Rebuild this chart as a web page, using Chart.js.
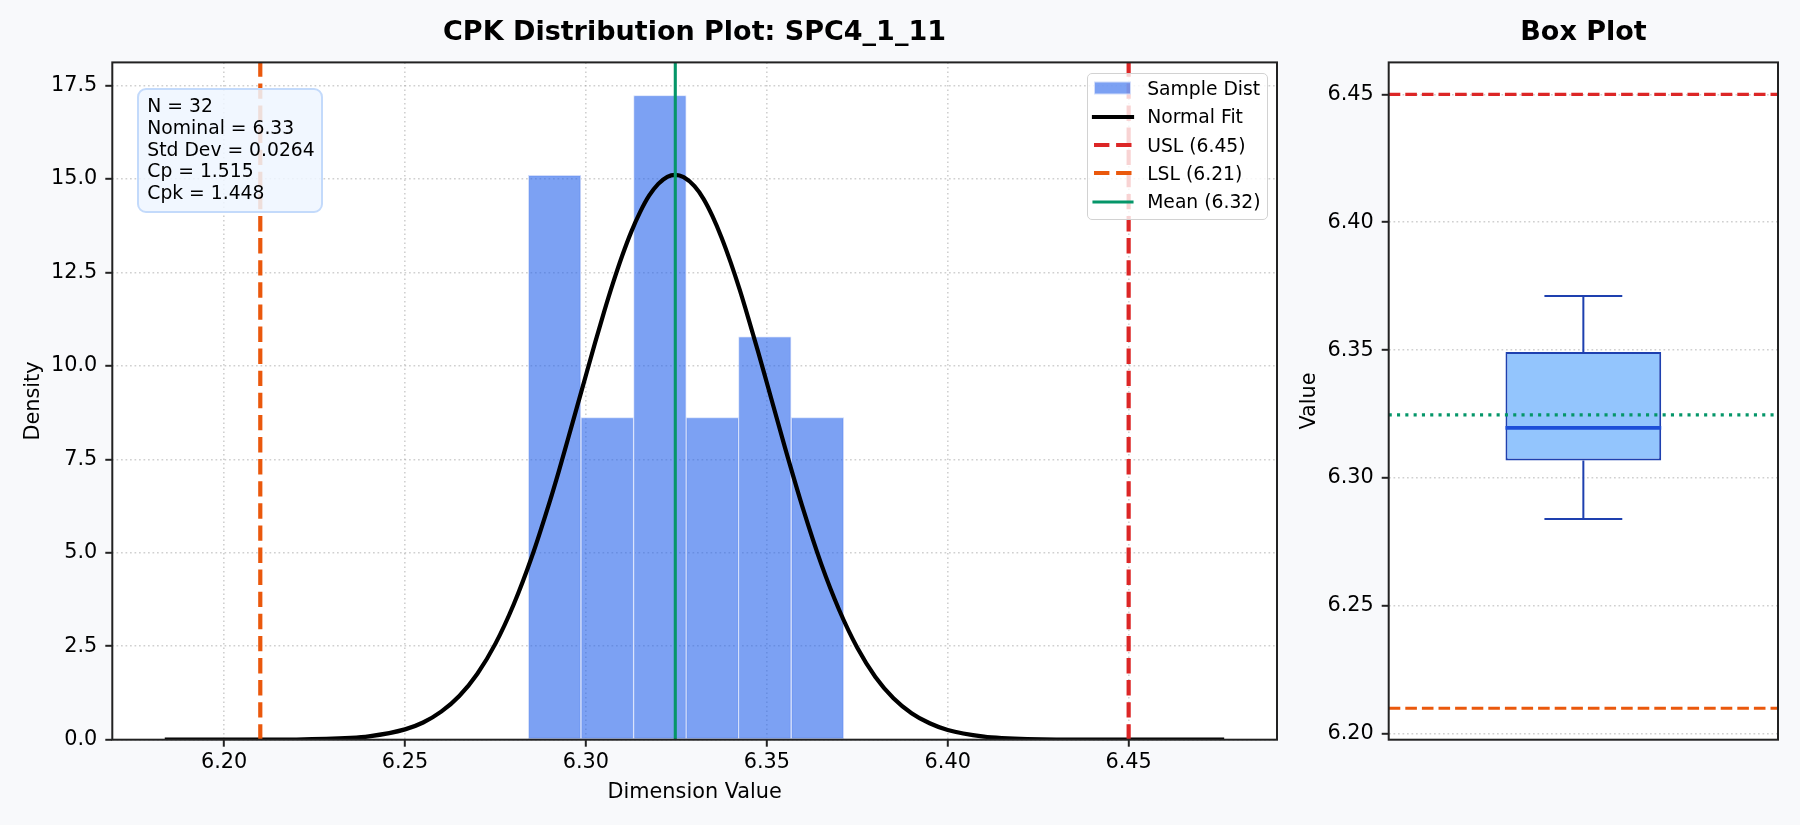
<!DOCTYPE html>
<html>
<head>
<meta charset="utf-8">
<script src="https://cdn.jsdelivr.net/npm/chart.js@4.4.1/dist/chart.umd.min.js"></script>
<style>
  html, body { margin: 0; padding: 0; width: 1800px; height: 825px; overflow: hidden; background: #f8f9fb; font-family: 'DejaVu Sans', sans-serif; }
  #wrap { position: relative; width: 1800px; height: 825px; overflow: hidden; }
  #mainCanvas { position: absolute; left: 0; top: 0; z-index: 1; }
  #boxCanvas { position: absolute; left: 1280px; top: 0; z-index: 2; }
  #stats { position: absolute; z-index: 3; left: 137px; top: 87.7px; width: 186.4px; height: 125.6px; box-sizing: border-box;
           border: 2px solid #c3dafb; border-radius: 9px; background: rgba(239,246,255,0.85);
           padding: 5.4px 0 0 8.3px; font-size: 18.75px; line-height: 21.8px; color: #000; white-space: nowrap; }
  #legend { position: absolute; z-index: 3; left: 1086.7px; top: 72.7px; width: 181.6px; height: 147.3px; box-sizing: border-box;
            border: 1.5px solid #d2d2d2; border-radius: 5px; background: rgba(255,255,255,0.8); padding-top: 0.65px; }
  .lrow { display: flex; align-items: center; height: 28.3px; font-size: 18.75px; color: #000; white-space: nowrap; }
  .lrow svg { margin-left: 3.8px; flex: none; }
  .lrow span { margin-left: 11.7px; }
</style>
</head>
<body>
<div id="wrap">
  <canvas id="mainCanvas" width="1389" height="825"></canvas>
  <canvas id="boxCanvas" width="607" height="825"></canvas>
  <div id="stats"></div>
  <div id="legend"></div>
</div>
<script>
// ---------------- data ----------------
const BIN_EDGES = [6.2841, 6.2986, 6.3132, 6.3277, 6.3422, 6.3567, 6.3713];
const DENSITY   = [15.1, 8.62, 17.23, 8.62, 10.78, 8.62];

const FIT_X = [6.1836, 6.2000, 6.2200, 6.2350, 6.2400, 6.2500, 6.2550, 6.2600, 6.2650, 6.2700,
               6.2750, 6.2800, 6.2850, 6.2900, 6.2925, 6.2950, 6.2975, 6.3000, 6.3025, 6.3050,
               6.3075, 6.3100, 6.3125, 6.3150, 6.3175, 6.3200, 6.3225, 6.3247, 6.3270, 6.3300,
               6.3325, 6.3350, 6.3375, 6.3400, 6.3425, 6.3450, 6.3475, 6.3500, 6.3550, 6.3600,
               6.3650, 6.3700, 6.3750, 6.3800, 6.3850, 6.3900, 6.3950, 6.4000, 6.4100, 6.4150,
               6.4300, 6.4500, 6.4764];
const FIT_Y = [0.000, 0.0002, 0.006, 0.047, 0.088, 0.276, 0.46, 0.75, 1.17, 1.765,
               2.57, 3.61, 4.88, 6.37, 7.18, 8.03, 8.89, 9.75, 10.61, 11.44,
               12.22, 12.94, 13.58, 14.12, 14.56, 14.87, 15.06, 15.11, 15.05, 14.81,
               14.47, 14.00, 13.43, 12.77, 12.04, 11.24, 10.41, 9.55, 7.82, 6.18,
               4.71, 3.47, 2.46, 1.68, 1.11, 0.71, 0.44, 0.26, 0.082, 0.044,
               0.005, 0.0001, 0.000];

const USL = 6.45;
const LSL = 6.21;
const MEAN = 6.3247;

const X_TICKS = [6.20, 6.25, 6.30, 6.35, 6.40, 6.45];
const Y_TICKS = [0, 2.5, 5.0, 7.5, 10.0, 12.5, 15.0, 17.5];
const X_RANGE = [6.1691, 6.4910];
const Y_RANGE = [0, 18.12];

// box plot: min, q1, median, q3, max
const BOX_STATS = [6.2840, 6.3069, 6.3196, 6.3493, 6.3712];
const BOX_TICKS = [6.20, 6.25, 6.30, 6.35, 6.40, 6.45];
const BOX_RANGE = [6.1977, 6.4625];
const BOX_X_RANGE = [0.5, 1.5];
const BOX_POS = 1;

const STATS_LINES = ['N = 32', 'Nominal = 6.33', 'Std Dev = 0.0264', 'Cp = 1.515', 'Cpk = 1.448'];

// ---------------- styling helpers ----------------
Chart.defaults.font.family = "'DejaVu Sans', sans-serif";
Chart.defaults.color = '#000';

const FONT_TICK = { size: 20.8 };
const gridOpts = { color: 'rgba(150,150,150,0.45)', lineWidth: 1.6, tickColor: '#222', tickWidth: 2, tickLength: 7, drawTicks: true, offset: false };
const borderOpts = { display: false, dash: [1.7, 2.8] };

const framePlugin = {
  id: 'frame',
  beforeDraw(chart) {
    const a = chart.chartArea, ctx = chart.ctx;
    ctx.save(); ctx.fillStyle = '#ffffff';
    ctx.fillRect(a.left, a.top, a.right - a.left, a.bottom - a.top);
    ctx.restore();
  },
  afterDatasetsDraw(chart) {
    const a = chart.chartArea, ctx = chart.ctx;
    ctx.save(); ctx.strokeStyle = '#222'; ctx.lineWidth = 2;
    ctx.strokeRect(a.left, a.top, a.right - a.left, a.bottom - a.top);
    ctx.restore();
  }
};

// ---------------- main chart ----------------
const histData = DENSITY.map((d, i) => ({ x: (BIN_EDGES[i] + BIN_EDGES[i + 1]) / 2, y: d }));
const fitData = FIT_X.map((x, i) => ({ x: x, y: FIT_Y[i] }));
const vline = v => [{ x: v, y: Y_RANGE[0] }, { x: v, y: Y_RANGE[1] }];

const mainChart = new Chart(document.getElementById('mainCanvas'), {
  type: 'line',
  data: {
    datasets: [
      { type: 'bar', label: 'Sample Dist', data: histData, backgroundColor: 'rgba(37,99,235,0.6)', borderColor: '#d2ddfa', borderWidth: 1, borderSkipped: false,
        barPercentage: 1, categoryPercentage: 1, order: 5 },
      { label: 'Normal Fit', data: fitData, borderColor: '#000', borderWidth: 4.2, cubicInterpolationMode: 'monotone', order: 4 },
      { label: 'USL (' + USL.toFixed(2) + ')', data: vline(USL), borderColor: '#dc2626', borderWidth: 4.2, borderDash: [15.4, 6.7], order: 3 },
      { label: 'LSL (' + LSL.toFixed(2) + ')', data: vline(LSL), borderColor: '#ea580c', borderWidth: 4.2, borderDash: [15.4, 6.7], order: 2 },
      { label: 'Mean (' + MEAN.toFixed(2) + ')', data: vline(MEAN), borderColor: '#059669', borderWidth: 3.1, order: 1 }
    ]
  },
  options: {
    responsive: false, animation: false, events: [],
    layout: { padding: 0 },
    elements: { point: { radius: 0 }, line: { tension: 0, fill: false, borderCapStyle: 'butt' } },
    plugins: {
      legend: { display: false }, tooltip: { enabled: false },
      title: { display: true, text: 'CPK Distribution Plot: SPC4_1_11', color: '#000', font: { size: 27, weight: 'bold' }, padding: { top: 17, bottom: 13 } }
    },
    scales: {
      x: { type: 'linear', position: 'bottom', min: X_RANGE[0], max: X_RANGE[1], offset: false,
           grid: gridOpts, border: borderOpts,
           ticks: { font: FONT_TICK, color: '#000', padding: 3, maxRotation: 0, minRotation: 0, autoSkip: false, callback: v => Number(v).toFixed(2) },
           afterBuildTicks: s => { s.ticks = X_TICKS.map(v => ({ value: v })); },
           afterFit: s => { s.height = 85.3; },
           title: { display: true, text: 'Dimension Value', color: '#000', font: { size: 20.8 }, padding: { top: 0, bottom: 19.5 } } },
      y: { type: 'linear', position: 'left', min: Y_RANGE[0], max: Y_RANGE[1],
           grid: gridOpts, border: borderOpts,
           ticks: { font: FONT_TICK, color: '#000', padding: 8, autoSkip: false, callback: v => Number(v).toFixed(1) },
           afterBuildTicks: s => { s.ticks = Y_TICKS.map(v => ({ value: v })); },
           afterFit: s => { s.width = 112.3; },
           title: { display: true, text: 'Density', color: '#000', font: { size: 20.8 }, padding: { top: 21.5, bottom: 0 } } },
      yR: { type: 'linear', position: 'right', display: true, grid: { display: false }, border: { display: false },
            ticks: { display: false }, afterFit: s => { s.width = 112; } }
    }
  },
  plugins: [framePlugin]
});

// ---------------- box plot chart ----------------
const [B_MIN, B_Q1, B_MED, B_Q3, B_MAX] = BOX_STATS;
const BOX_HALF = 0.2, CAP_HALF = 0.1;
const hline = v => [{ x: BOX_X_RANGE[0], y: v }, { x: BOX_X_RANGE[1], y: v }];
const BOX_EDGE = '#1e40af';

const boxChart = new Chart(document.getElementById('boxCanvas'), {
  type: 'line',
  data: {
    datasets: [
      { data: hline(MEAN), borderColor: '#059669', borderWidth: 3.1, borderDash: [3.1, 5.2], order: 1 },
      { data: hline(LSL), borderColor: '#ea580c', borderWidth: 3.1, borderDash: [11.6, 5], order: 2 },
      { data: hline(USL), borderColor: '#dc2626', borderWidth: 3.1, borderDash: [11.6, 5], order: 2 },
      { data: [{ x: BOX_POS - BOX_HALF, y: B_MED }, { x: BOX_POS + BOX_HALF, y: B_MED }], borderColor: '#1d4ed8', borderWidth: 3.8, order: 3 },
      { data: [{ x: BOX_POS, y: B_Q3 }, { x: BOX_POS, y: B_MAX }], borderColor: BOX_EDGE, borderWidth: 2, order: 4 },
      { data: [{ x: BOX_POS, y: B_Q1 }, { x: BOX_POS, y: B_MIN }], borderColor: BOX_EDGE, borderWidth: 2, order: 4 },
      { data: [{ x: BOX_POS - CAP_HALF, y: B_MAX }, { x: BOX_POS + CAP_HALF, y: B_MAX }], borderColor: BOX_EDGE, borderWidth: 2, order: 4 },
      { data: [{ x: BOX_POS - CAP_HALF, y: B_MIN }, { x: BOX_POS + CAP_HALF, y: B_MIN }], borderColor: BOX_EDGE, borderWidth: 2, order: 4 },
      { type: 'bar', data: [{ x: BOX_POS, y: [B_Q1, B_Q3] }], backgroundColor: '#93c5fd', borderColor: BOX_EDGE, borderWidth: 2, borderSkipped: false,
        barPercentage: 0.4, categoryPercentage: 1, order: 5 }
    ]
  },
  options: {
    responsive: false, animation: false, events: [],
    layout: { padding: { left: 0, right: 0, top: 0, bottom: 85.3 } },
    elements: { point: { radius: 0 }, line: { tension: 0, fill: false, borderCapStyle: 'butt' } },
    plugins: {
      legend: { display: false }, tooltip: { enabled: false },
      title: { display: true, text: 'Box Plot', color: '#000', font: { size: 27, weight: 'bold' }, padding: { top: 17, bottom: 13 } }
    },
    scales: {
      x: { type: 'linear', display: false, min: BOX_X_RANGE[0], max: BOX_X_RANGE[1], offset: false,
           afterBuildTicks: s => { s.ticks = []; } },
      y: { type: 'linear', position: 'left', min: BOX_RANGE[0], max: BOX_RANGE[1],
           grid: gridOpts, border: borderOpts,
           ticks: { font: FONT_TICK, color: '#000', padding: 8, autoSkip: false, callback: v => Number(v).toFixed(2) },
           afterBuildTicks: s => { s.ticks = BOX_TICKS.map(v => ({ value: v })); },
           afterFit: s => { s.width = 108.7; },
           title: { display: true, text: 'Value', color: '#000', font: { size: 20.8 }, padding: { top: 17.5, bottom: 0 } } },
      yR: { type: 'linear', position: 'right', display: true, grid: { display: false }, border: { display: false },
            ticks: { display: false }, afterFit: s => { s.width = 109; } }
    }
  },
  plugins: [framePlugin]
});

// ---------------- stats box & legend (HTML) ----------------
document.getElementById('stats').innerHTML = STATS_LINES.map(t => '<div>' + t + '</div>').join('');

const legendEl = document.getElementById('legend');
mainChart.data.datasets.filter(d => d.label).forEach(d => {
  const h = 28;
  let svg;
  if (d.type === 'bar') {
    svg = '<svg width="44" height="' + h + '"><rect x="3.5" y="' + (h / 2 - 6) + '" width="36" height="12" fill="' + d.backgroundColor +
          '" stroke="' + d.borderColor + '" stroke-width="1"/></svg>';
  } else {
    const dash = d.borderDash ? d.borderDash.join(' ') : 'none';
    const cap = d.borderDash ? 'butt' : 'square';
    svg = '<svg width="44" height="' + h + '"><line x1="3" y1="' + h / 2 + '" x2="41" y2="' + h / 2 + '" stroke="' + d.borderColor +
          '" stroke-width="' + d.borderWidth + '" stroke-dasharray="' + dash + '" stroke-linecap="' + cap + '"/></svg>';
  }
  const row = document.createElement('div');
  row.className = 'lrow';
  row.innerHTML = svg + '<span>' + d.label + '</span>';
  legendEl.appendChild(row);
});
</script>
</body>
</html>
